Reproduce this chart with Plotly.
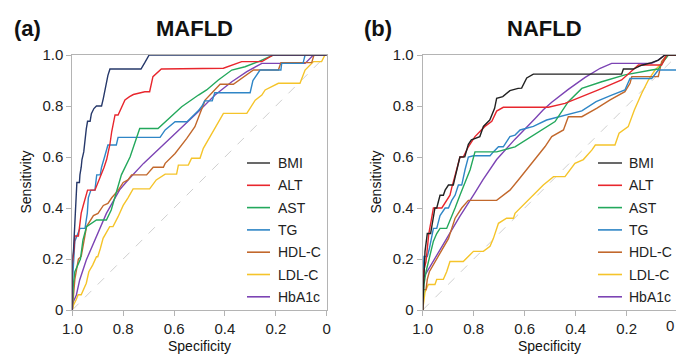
import plotly.graph_objects as go

# ---------------- data (specificity, sensitivity) ----------------
LABELS = ["BMI", "ALT", "AST", "TG", "HDL-C", "LDL-C", "HbA1c"]
X_TICKS = [1.0, 0.8, 0.6, 0.4, 0.2, 0.0]
X_TICK_TEXT = ["1.0", "0.8", "0.6", "0.4", "0.2", "0"]
Y_TICKS = [0.0, 0.2, 0.4, 0.6, 0.8, 1.0]
Y_TICK_TEXT = ["0", "0.2", "0.4", "0.6", "0.8", "1.0"]

# (a) MAFLD
A_BMI_SPEC = [1, 1, 0.995, 0.993, 0.99, 0.988, 0.985, 0.982, 0.972, 0.97, 0.965, 0.962, 0.955, 0.952, 0.948, 0.945, 0.94, 0.93, 0.925, 0.915, 0.905, 0.885, 0.878, 0.872, 0.868, 0.86, 0.852, 0.73, 0.715, 0.698, 0]
A_BMI_SENS = [0, 0.2, 0.24, 0.3, 0.35, 0.38, 0.44, 0.5, 0.5, 0.53, 0.56, 0.59, 0.62, 0.65, 0.68, 0.71, 0.74, 0.74, 0.77, 0.79, 0.8, 0.8, 0.83, 0.86, 0.89, 0.92, 0.945, 0.945, 0.97, 1.0, 1.0]
A_ALT_SPEC = [1, 1, 0.993, 0.99, 0.976, 0.972, 0.965, 0.957, 0.95, 0.94, 0.911, 0.898, 0.885, 0.875, 0.865, 0.858, 0.852, 0.845, 0.838, 0.832, 0.82, 0.8, 0.793, 0.775, 0.76, 0.715, 0.696, 0.683, 0.65, 0.406, 0.334, 0.255, 0.21, 0]
A_ALT_SENS = [0, 0.18, 0.24, 0.29, 0.29, 0.32, 0.38, 0.41, 0.44, 0.47, 0.47, 0.5, 0.53, 0.56, 0.59, 0.62, 0.65, 0.7, 0.74, 0.765, 0.765, 0.81, 0.824, 0.837, 0.845, 0.856, 0.856, 0.915, 0.945, 0.948, 0.974, 0.974, 1, 1]
A_AST_SPEC = [1, 0.996, 0.99, 0.976, 0.968, 0.958, 0.944, 0.905, 0.866, 0.847, 0.83, 0.814, 0.807, 0.773, 0.735, 0.663, 0.635, 0.57, 0.504, 0.472, 0.426, 0.373, 0.321, 0.268, 0.21, 0]
A_AST_SENS = [0, 0.1, 0.15, 0.18, 0.2, 0.275, 0.327, 0.353, 0.353, 0.392, 0.45, 0.51, 0.53, 0.6, 0.712, 0.712, 0.738, 0.797, 0.843, 0.863, 0.902, 0.941, 0.954, 0.974, 1, 1]
A_TG_SPEC = [1, 1, 0.997, 0.993, 0.99, 0.978, 0.97, 0.95, 0.941, 0.937, 0.927, 0.911, 0.904, 0.89, 0.885, 0.873, 0.86, 0.827, 0.82, 0.655, 0.635, 0.596, 0.549, 0.506, 0.49, 0.48, 0.45, 0.44, 0.301, 0.29, 0.262, 0.18, 0.177, 0.093, 0.085, 0]
A_TG_SENS = [0, 0.1, 0.15, 0.2, 0.27, 0.3, 0.32, 0.32, 0.38, 0.44, 0.47, 0.47, 0.53, 0.53, 0.56, 0.601, 0.647, 0.647, 0.677, 0.677, 0.706, 0.738, 0.738, 0.78, 0.8, 0.82, 0.82, 0.852, 0.852, 0.9, 0.941, 0.941, 0.967, 0.967, 1, 1]
A_HDL_SPEC = [1, 0.997, 0.99, 0.976, 0.965, 0.944, 0.917, 0.899, 0.878, 0.86, 0.845, 0.819, 0.8, 0.781, 0.767, 0.708, 0.682, 0.642, 0.635, 0.596, 0.55, 0.518, 0.478, 0.419, 0.367, 0.288, 0.19, 0.18, 0.059, 0.05, 0]
A_HDL_SENS = [0, 0.05, 0.12, 0.2, 0.21, 0.327, 0.37, 0.379, 0.41, 0.418, 0.44, 0.47, 0.5, 0.51, 0.53, 0.53, 0.56, 0.56, 0.575, 0.614, 0.673, 0.719, 0.823, 0.885, 0.885, 0.941, 0.941, 0.97, 0.97, 1, 1]
A_LDL_SPEC = [1, 0.995, 0.985, 0.977, 0.965, 0.955, 0.945, 0.935, 0.92, 0.905, 0.9, 0.89, 0.879, 0.853, 0.84, 0.82, 0.8, 0.781, 0.761, 0.696, 0.67, 0.635, 0.59, 0.583, 0.544, 0.531, 0.498, 0.485, 0.439, 0.406, 0.314, 0.281, 0.255, 0.242, 0.19, 0.105, 0.085, 0.052, 0.02, 0.007, 0]
A_LDL_SENS = [0, 0.02, 0.04, 0.06, 0.06, 0.08, 0.105, 0.15, 0.176, 0.209, 0.209, 0.24, 0.281, 0.327, 0.327, 0.366, 0.41, 0.44, 0.475, 0.475, 0.51, 0.533, 0.533, 0.568, 0.568, 0.595, 0.595, 0.634, 0.712, 0.771, 0.771, 0.823, 0.843, 0.863, 0.889, 0.889, 0.941, 0.974, 0.974, 1, 1]
A_HBA_SPEC = [1, 0.997, 0.984, 0.971, 0.945, 0.906, 0.866, 0.814, 0.781, 0.72, 0.635, 0.557, 0.504, 0.439, 0.373, 0.314, 0.255, 0.085, 0.052, 0]
A_HBA_SENS = [0, 0.03, 0.059, 0.118, 0.196, 0.288, 0.379, 0.471, 0.51, 0.575, 0.654, 0.725, 0.778, 0.843, 0.895, 0.935, 0.967, 0.967, 1, 1]

# (b) NAFLD
B_BMI_SPEC = [1, 0.995, 0.991, 0.987, 0.982, 0.969, 0.958, 0.952, 0.945, 0.932, 0.919, 0.912, 0.899, 0.88, 0.873, 0.86, 0.854, 0.835, 0.821, 0.809, 0.801, 0.776, 0.762, 0.737, 0.718, 0.71, 0.686, 0.658, 0.626, 0.612, 0.592, 0.566, 0.22, 0.213, 0.174, 0.141, 0.102, 0.076, 0.05, 0]
B_BMI_SENS = [0, 0.15, 0.23, 0.26, 0.3, 0.3, 0.36, 0.4, 0.4, 0.45, 0.45, 0.47, 0.49, 0.49, 0.52, 0.58, 0.6, 0.601, 0.65, 0.667, 0.67, 0.68, 0.72, 0.745, 0.791, 0.83, 0.837, 0.86, 0.869, 0.87, 0.91, 0.925, 0.925, 0.945, 0.945, 0.96, 0.97, 0.98, 1, 1]
B_ALT_SPEC = [1, 0.997, 0.987, 0.982, 0.976, 0.965, 0.958, 0.925, 0.906, 0.893, 0.886, 0.88, 0.867, 0.854, 0.841, 0.821, 0.795, 0.756, 0.729, 0.71, 0.684, 0.507, 0.442, 0.311, 0.22, 0.154, 0.063, 0.043, 0]
B_ALT_SENS = [0, 0.15, 0.19, 0.23, 0.3, 0.36, 0.4, 0.4, 0.43, 0.45, 0.48, 0.5, 0.55, 0.6, 0.6, 0.64, 0.68, 0.72, 0.74, 0.78, 0.795, 0.795, 0.81, 0.863, 0.902, 0.961, 0.961, 1, 1]
B_AST_SPEC = [1, 0.995, 0.987, 0.974, 0.958, 0.945, 0.932, 0.906, 0.893, 0.873, 0.854, 0.834, 0.814, 0.795, 0.71, 0.638, 0.56, 0.481, 0.429, 0.376, 0.298, 0.207, 0.102, 0.076, 0.056, 0.037, 0]
B_AST_SENS = [0, 0.1, 0.15, 0.2, 0.27, 0.3, 0.32, 0.32, 0.35, 0.4, 0.45, 0.5, 0.55, 0.62, 0.62, 0.64, 0.69, 0.739, 0.817, 0.869, 0.895, 0.922, 0.941, 0.945, 0.974, 1, 1]
B_TG_SPEC = [1, 1, 0.995, 0.982, 0.974, 0.965, 0.958, 0.945, 0.939, 0.932, 0.912, 0.899, 0.886, 0.873, 0.86, 0.847, 0.834, 0.821, 0.801, 0.736, 0.723, 0.703, 0.684, 0.658, 0.638, 0.618, 0.566, 0.514, 0.376, 0.35, 0.32, 0.259, 0.207, 0.187, 0.102, 0.076, 0, 0]
B_TG_SENS = [0, 0.1, 0.21, 0.21, 0.24, 0.28, 0.32, 0.32, 0.34, 0.37, 0.4, 0.4, 0.43, 0.45, 0.49, 0.49, 0.55, 0.6, 0.605, 0.605, 0.62, 0.64, 0.64, 0.68, 0.686, 0.706, 0.72, 0.745, 0.781, 0.797, 0.817, 0.843, 0.863, 0.908, 0.908, 0.941, 0.941, 1]
B_HDL_SPEC = [1, 0.997, 0.987, 0.982, 0.974, 0.945, 0.919, 0.899, 0.886, 0.873, 0.847, 0.821, 0.71, 0.684, 0.658, 0.625, 0.573, 0.52, 0.494, 0.448, 0.429, 0.376, 0.318, 0.265, 0.207, 0.187, 0.18, 0.076, 0.063, 0.043, 0]
B_HDL_SENS = [0, 0.08, 0.08, 0.12, 0.15, 0.2, 0.25, 0.28, 0.32, 0.36, 0.4, 0.43, 0.43, 0.45, 0.47, 0.51, 0.575, 0.641, 0.68, 0.706, 0.758, 0.758, 0.791, 0.824, 0.856, 0.889, 0.915, 0.915, 0.974, 1, 1]
B_LDL_SPEC = [1, 0.997, 0.991, 0.978, 0.952, 0.945, 0.919, 0.906, 0.893, 0.841, 0.821, 0.801, 0.762, 0.736, 0.723, 0.703, 0.671, 0.644, 0.638, 0.592, 0.56, 0.527, 0.487, 0.442, 0.403, 0.37, 0.337, 0.323, 0.246, 0.23, 0.194, 0.17, 0.141, 0.115, 0.089, 0.063, 0.037, 0]
B_LDL_SENS = [0, 0.03, 0.07, 0.1, 0.1, 0.12, 0.12, 0.15, 0.19, 0.19, 0.21, 0.23, 0.23, 0.25, 0.28, 0.34, 0.36, 0.36, 0.379, 0.425, 0.458, 0.49, 0.523, 0.523, 0.575, 0.59, 0.627, 0.647, 0.647, 0.693, 0.719, 0.784, 0.85, 0.902, 0.941, 0.967, 1, 1]
B_HBA_SPEC = [1, 1, 0.995, 0.953, 0.901, 0.855, 0.796, 0.764, 0.71, 0.638, 0.56, 0.527, 0.494, 0.429, 0.363, 0.304, 0.259, 0.102, 0.076, 0.05, 0]
B_HBA_SENS = [0, 0.13, 0.13, 0.2, 0.288, 0.366, 0.458, 0.51, 0.59, 0.67, 0.75, 0.785, 0.815, 0.865, 0.912, 0.948, 0.967, 0.967, 0.98, 1, 1]

DIAG = [1, 0]

# ---------------- styling ----------------
FONT = "Liberation Sans, Arial, sans-serif"
A_COLORS = ["#26386a", "#e8262d", "#23a85c", "#2f86c6", "#c2682c", "#f5c42a", "#7c44b4"]
B_COLORS = ["#222222", "#e8262d", "#23a85c", "#2f86c6", "#c2682c", "#f5c42a", "#7c44b4"]
LEGEND_COLORS = ["#444444", "#e8262d", "#23a85c", "#2f86c6", "#c2682c", "#f5c42a", "#7c44b4"]
AXIS_COLOR = "#b4b4b4"

A_SERIES = [(A_BMI_SPEC, A_BMI_SENS), (A_ALT_SPEC, A_ALT_SENS), (A_AST_SPEC, A_AST_SENS),
            (A_TG_SPEC, A_TG_SENS), (A_HDL_SPEC, A_HDL_SENS), (A_LDL_SPEC, A_LDL_SENS),
            (A_HBA_SPEC, A_HBA_SENS)]
B_SERIES = [(B_BMI_SPEC, B_BMI_SENS), (B_ALT_SPEC, B_ALT_SENS), (B_AST_SPEC, B_AST_SENS),
            (B_TG_SPEC, B_TG_SENS), (B_HDL_SPEC, B_HDL_SENS), (B_LDL_SPEC, B_LDL_SENS),
            (B_HBA_SPEC, B_HBA_SENS)]

fig = go.Figure()

for xa, ya in (("x", "y"), ("x2", "y2")):
    fig.add_trace(go.Scatter(x=DIAG, y=[1 - v for v in DIAG], xaxis=xa, yaxis=ya, mode="lines",
                             line=dict(color="#cfcfcf", width=1, dash="dash"),
                             showlegend=False, hoverinfo="skip"))

# draw in reverse order so BMI is on top
for i in reversed(range(len(LABELS))):
    sx, sy = A_SERIES[i]
    fig.add_trace(go.Scatter(x=sx, y=sy, xaxis="x", yaxis="y", mode="lines", name=LABELS[i],
                             line=dict(color=A_COLORS[i], width=1.4), showlegend=False))
for i in reversed(range(len(LABELS))):
    sx, sy = B_SERIES[i]
    fig.add_trace(go.Scatter(x=sx, y=sy, xaxis="x2", yaxis="y2", mode="lines", name=LABELS[i],
                             line=dict(color=B_COLORS[i], width=1.4), showlegend=False))

W, H = 676, 354
XA = (72.3 / W, 326.7 / W)
XB = (422.7 / W, 1.0)
YD = (1 - 310 / H, 1 - 55 / H)

axis_common = dict(showline=True, linecolor=AXIS_COLOR, linewidth=1, mirror=True, ticks="outside",
                   ticklen=5, tickcolor=AXIS_COLOR, showgrid=False, zeroline=False, automargin=False,
                   tickfont=dict(family=FONT, size=15, color="#222"))

fig.update_layout(
    width=W, height=H, margin=dict(l=0, r=0, t=0, b=0, autoexpand=False),
    paper_bgcolor="white", plot_bgcolor="white", showlegend=False,
    xaxis=dict(domain=XA, range=[1, 0], tickvals=X_TICKS, ticktext=X_TICK_TEXT, anchor="y", **axis_common),
    yaxis=dict(domain=YD, range=[0, 1], tickvals=Y_TICKS, ticktext=Y_TICK_TEXT, anchor="x", **axis_common),
    xaxis2=dict(domain=XB, range=[1, 1 - (W - 422.7) / 255.0], tickvals=X_TICKS[:-1], ticktext=X_TICK_TEXT[:-1],
                anchor="y2", **axis_common),
    yaxis2=dict(domain=YD, range=[0, 1], tickvals=Y_TICKS, ticktext=Y_TICK_TEXT, anchor="x2", **axis_common),
)

ann = []
shapes = []
def text(x, y, t, size, bold=False, angle=0, xanchor="center", color="#111"):
    ann.append(dict(x=x / W, y=1 - y / H, xref="paper", yref="paper", text=("<b>%s</b>" % t) if bold else t,
                    showarrow=False, font=dict(family=FONT, size=size, color=color), textangle=angle,
                    xanchor=xanchor, yanchor="middle"))

text(12, 28, "(a)", 22, bold=True, xanchor="left")
text(194, 28, "MAFLD", 22, bold=True)
text(362, 28, "(b)", 22, bold=True, xanchor="left")
text(544, 28, "NAFLD", 22, bold=True)
text(199.5, 346, "Specificity", 14)
text(549, 346, "Specificity", 14)
text(25, 182.5, "Sensitivity", 14, angle=-90)
text(375, 182.5, "Sensitivity", 14, angle=-90)
ann.append(dict(x=1.0, y=1 - 325.5 / H, xref="paper", yref="paper", text="0", showarrow=False,
                font=dict(family=FONT, size=15, color="#222"), xanchor="right", yanchor="middle"))

# manual legends
LEG_Y0, LEG_DY = 163.0, 22.3
for (lx0, lx1, tx) in ((247, 270, 276), (598, 622, 627)):
    for i, lab in enumerate(LABELS):
        yy = LEG_Y0 + i * LEG_DY
        shapes.append(dict(type="line", xref="paper", yref="paper", x0=lx0 / W, x1=lx1 / W,
                           y0=1 - yy / H, y1=1 - yy / H, line=dict(color=LEGEND_COLORS[i], width=1.6)))
        text(tx, yy, lab, 14, xanchor="left", color="#222")

fig.update_layout(annotations=ann, shapes=shapes)

fig.write_html("out.html", config={"displayModeBar": False},
               post_script="document.body.style.margin='0';document.body.style.padding='0';"
                           "document.documentElement.style.overflow='hidden';")
